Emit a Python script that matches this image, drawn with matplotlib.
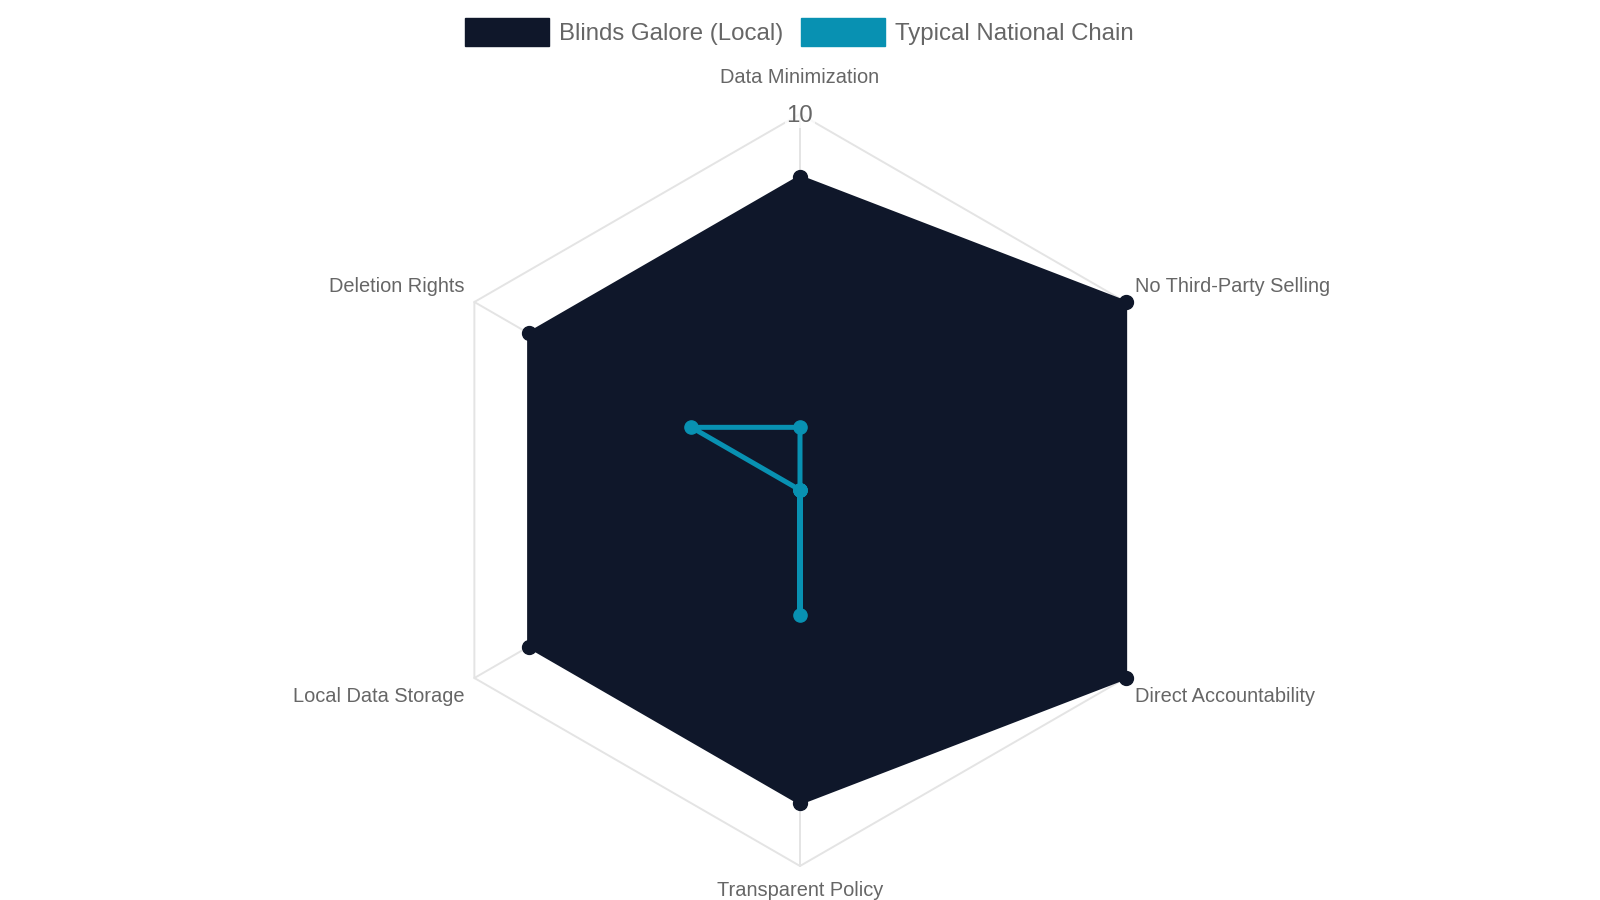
import numpy as np
import matplotlib
matplotlib.use("Agg")
import matplotlib.pyplot as plt
from matplotlib.patches import Patch

# ---- data ----
categories = ["Data Minimization", "No Third-Party Selling", "Direct Accountability",
              "Transparent Policy", "Local Data Storage", "Deletion Rights"]
series_names = ["Blinds Galore (Local)", "Typical National Chain"]
blinds_values = [8.5, 10, 10, 8.5, 8.5, 8.5]
national_values = [2.5, 1, 1, 4, 1, 4]
scale_min = 1
scale_max = 10
tick_values = [10]

# ---- style ----
DARK = "#0f172a"
CYAN = "#0891b2"
GRID = "#e4e4e4"
TEXT = "#666666"
plt.rcParams["font.family"] = ["Liberation Sans", "DejaVu Sans"]

fig = plt.figure(figsize=(16, 9), dpi=100)
W, H = 1600, 900
cx, cy, R = 800, 490, 376
ax = fig.add_axes([(cx - R) / W, (H - cy - R) / H, 2 * R / W, 2 * R / H], projection="polar")
ax.set_theta_zero_location("N")
ax.set_theta_direction(-1)
ax.set_ylim(scale_min, scale_max)
ax.grid(False)
ax.spines["polar"].set_visible(False)
ax.set_xticks([])
ax.set_yticks([])
ax.patch.set_alpha(0)

n = len(categories)
angles = np.arange(n) * 2 * np.pi / n
closed = np.append(angles, angles[0])

# grid: outer hexagon + angle lines
for t in tick_values:
    ax.plot(closed, [t] * (n + 1), color=GRID, lw=1.4, zorder=1, clip_on=False)
for a in angles:
    ax.plot([a, a], [scale_min, scale_max], color=GRID, lw=1.4, zorder=1, clip_on=False)

# Blinds Galore
bv = np.append(blinds_values, blinds_values[0])
ax.fill(closed, bv, color=DARK, alpha=1.0, zorder=2, lw=0)
ax.plot(closed, bv, color=DARK, lw=2.2, zorder=3, clip_on=False)
ax.plot(angles, blinds_values, "o", color=DARK, ms=10, zorder=4, clip_on=False)

# National chain
nv = np.append(national_values, national_values[0])
ax.plot(closed, nv, color=CYAN, lw=3.6, zorder=5, clip_on=False, solid_joinstyle="round")
ax.plot(angles, national_values, "o", color=CYAN, ms=9.5, zorder=6, clip_on=False)

ppx = 72 / 100  # points per pixel

# tick labels
for t in tick_values:
    ax.annotate(f"{t:g}", xy=(0, t), xytext=(0, -2 * ppx), textcoords="offset points",
                ha="center", va="center", fontsize=17.3, color=TEXT, zorder=7,
                annotation_clip=False,
                bbox=dict(boxstyle="square,pad=0.05", fc="white", ec="none", alpha=0.75))

# point labels
offsets = [(0, 36.5, "center"), (9, 15, "left"), (9, -19, "left"),
           (0, -24, "center"), (-10, -19, "right"), (-10, 15, "right")]
for a, lab, (dx, dy, ha) in zip(angles, categories, offsets):
    ax.annotate(lab, xy=(a, scale_max), xytext=(dx * ppx, dy * ppx), textcoords="offset points",
                ha=ha, va="center", fontsize=14.4, color=TEXT, annotation_clip=False)

# legend
handles = [Patch(facecolor=DARK, edgecolor=DARK), Patch(facecolor=CYAN, edgecolor=CYAN)]
leg = fig.legend(handles, series_names, loc="center", bbox_to_anchor=(0.4995, 1 - 32 / H),
                 ncol=2, frameon=False, fontsize=17.3, handlelength=3.5, handleheight=1.4,
                 handletextpad=0.42, columnspacing=0.75, borderpad=0, labelcolor=TEXT)

fig.savefig("out.png", dpi=100, facecolor="white")
